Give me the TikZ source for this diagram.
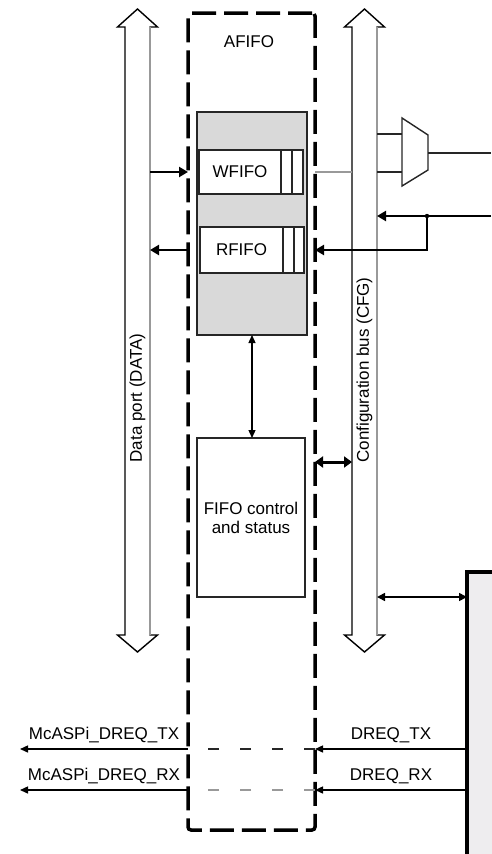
\documentclass[tikz,border=0pt]{standalone}
\usepackage{fontspec}
\setmainfont{Liberation Sans}
\usepackage{xcolor}
\usepackage{tikz}
\usetikzlibrary{arrows.meta, positioning}

\definecolor{corefill}{HTML}{D9D9D9}
\definecolor{perifill}{HTML}{EEEDEF}
\definecolor{busgray}{HTML}{999999}

\begin{document}
\begin{tikzpicture}[
  x=1pt, y=-1pt,
  font=\fontsize{17}{19}\selectfont,
  bus/.style={draw=black, line width=1.4pt, fill=white},
  busshade/.style={draw=busgray, line width=2.4pt},
  buslabel/.style={rotate=90, inner sep=0pt},
  afifobox/.style={draw=black, line width=3.5pt, dash pattern=on 24pt off 8pt,
                   rounded corners=3pt, minimum width=127pt, minimum height=817pt,
                   inner sep=0pt, outer sep=0pt},
  corebox/.style={draw=black!85, line width=1.3pt, fill=corefill,
                  minimum width=110pt, minimum height=223pt, outer sep=0pt},
  fifobox/.style={draw=black!85, line width=1.4pt, fill=white, inner sep=0pt, outer sep=0pt},
  cellline/.style={draw=black!85, line width=1.4pt},
  peribox/.style={draw=black, line width=3.5pt, fill=perifill, outer sep=0pt},
  wire/.style={draw=black!85, line width=1.4pt},
  grayline/.style={draw=busgray, line width=1.6pt},
  dataarrow/.style={-{Triangle[length=9pt, width=10pt]}, line width=2.4pt},
  cfgarrow/.style={-{Triangle[length=9pt, width=10pt]}, line width=2.1pt},
  busarrow/.style={{Triangle[length=8pt, width=11pt]}-{Triangle[length=8pt, width=11pt]}, line width=3pt},
  periarrow/.style={{Triangle[length=8pt, width=8pt]}-{Triangle[length=8pt, width=8pt]}, line width=1.6pt},
  linkarrow/.style={{Triangle[length=8pt, width=7pt]}-{Triangle[length=8pt, width=7pt]}, line width=1.3pt},
  sigarrow/.style={-{Triangle[length=8pt, width=7pt]}, line width=1.4pt},
  txdash/.style={draw=black!85, line width=1.4pt, dash pattern=on 11pt off 21pt},
  rxdash/.style={draw=black!40, line width=1.4pt, dash pattern=on 11pt off 21pt}
]
\useasboundingbox (0,0) rectangle (491,854);

\foreach \bx in {137.5,364.5} {
  \draw[bus] (\bx,9) -- (\bx+20,27) -- (\bx+12.5,27) -- (\bx+12.5,635) -- (\bx+20,635)
    -- (\bx,652) -- (\bx-20,635) -- (\bx-12.5,635) -- (\bx-12.5,27) -- (\bx-20,27) -- cycle;
  \draw[busshade] (\bx+12.5,27) -- (\bx+12.5,635);
}
\node[buslabel] (datalbl) at (137.5,398) {Data port (DATA)};
\node[buslabel] (cfglbl) at (364.5,370) {Configuration bus (CFG)};
\coordinate (dataR) at (150,0);
\coordinate (cfgL) at (352,0);
\coordinate (cfgR) at (377,0);

\node[afifobox] (afifo) at (251.5,421.5) {};
\node (afifolbl) at (249,42) {AFIFO};

\node[corebox] (core) at (252,223.5) {};
\node[fifobox, minimum width=82pt, minimum height=44pt] (wfifo) at (240,172) {WFIFO};
\draw[cellline, fill=white] (wfifo.north east) rectangle ++(22,44);
\draw[cellline] ([xshift=11pt]wfifo.north east) -- ([xshift=11pt]wfifo.south east);
\node[fifobox, minimum width=83pt, minimum height=46pt] (rfifo) at (241.5,250) {RFIFO};
\draw[cellline, fill=white] (rfifo.north east) rectangle ++(21,46);
\draw[cellline] ([xshift=11pt]rfifo.north east) -- ([xshift=11pt]rfifo.south east);

\node[fifobox, minimum width=108pt, minimum height=159pt, align=center] (ctrl) at (251,517.5)
  {FIFO control\\and status};

\node[peribox, anchor=north west, minimum width=60pt, minimum height=320pt] (mcasp) at (467,572) {};

\coordinate (muxa) at (402,134);
\coordinate (muxb) at (402,172);
\coordinate (muxo) at (428,153);
\coordinate (muxout) at (491,153);
\draw[wire, fill=white] (402,118) -- (428,135) -- (428,170) -- (402,186) -- cycle;
\draw[wire] (cfgR |- muxa) -- (muxa);
\draw[wire] (cfgR |- muxb) -- (muxb);
\draw[wire] (muxo) -- (muxout);

\coordinate (cfgin) at (491,216);
\coordinate (split) at (427,216);
\coordinate (ctrlport) at (315,462);
\coordinate (periport) at (467,597);
\coordinate (txy) at (0,749);
\coordinate (rxy) at (0,790);
\coordinate (txout) at (20,749);
\coordinate (rxout) at (20,790);

\draw[dataarrow] (dataR |- wfifo) -- (afifo.west |- wfifo);
\draw[dataarrow] (afifo.west |- rfifo) -- (dataR |- rfifo);
\draw[grayline] (afifo.east |- wfifo) -- (cfgL |- wfifo);
\draw[cfgarrow] (cfgin) -- (cfgR |- cfgin);
\draw[cfgarrow] (split) |- (afifo.east |- rfifo);
\fill (split) circle (2.2pt);
\draw[linkarrow] (core.south) -- (core.south |- ctrl.north);
\draw[busarrow] (ctrlport) -- (cfgL |- ctrlport);
\draw[periarrow] (cfgR |- periport) -- (periport);

\draw[sigarrow] (mcasp.west |- txy) -- node[above=2pt] (dreqtx) {DREQ\_TX} (afifo.east |- txy);
\draw[txdash] (afifo.east |- txy) -- (afifo.west |- txy);
\draw[sigarrow] (afifo.west |- txy) -- node[above=2pt] (mcasptx) {McASPi\_DREQ\_TX} (txout);
\draw[sigarrow] (mcasp.west |- rxy) -- node[above=2pt] (dreqrx) {DREQ\_RX} (afifo.east |- rxy);
\draw[rxdash] (afifo.east |- rxy) -- (afifo.west |- rxy);
\draw[sigarrow] (afifo.west |- rxy) -- node[above=2pt] (mcasprx) {McASPi\_DREQ\_RX} (rxout);

\end{tikzpicture}
\end{document}
